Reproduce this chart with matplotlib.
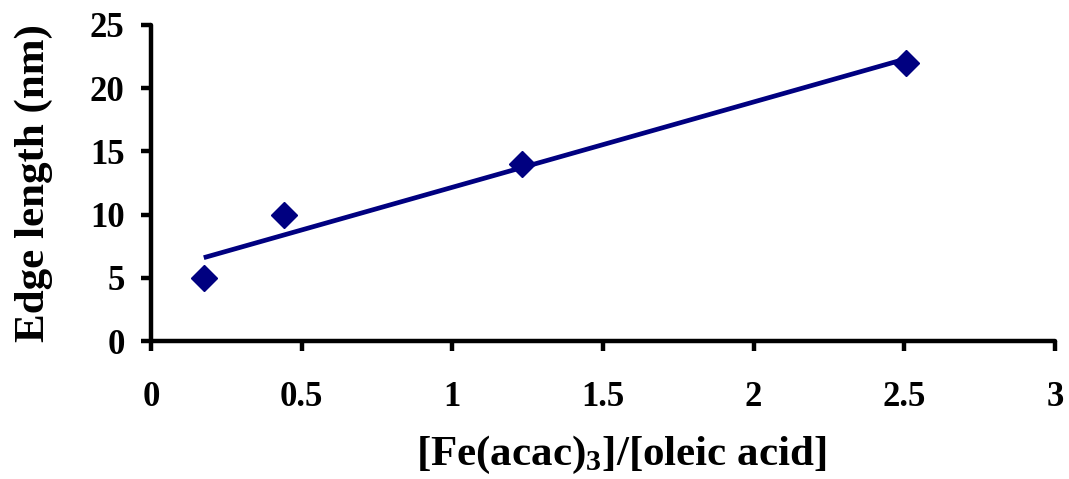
import numpy as np
import matplotlib
matplotlib.use("Agg")
import matplotlib.pyplot as plt

plt.rcParams['font.family'] = ['Liberation Serif', 'DejaVu Serif']
plt.rcParams['font.weight'] = 'bold'
plt.rcParams['mathtext.fontset'] = 'custom'
plt.rcParams['mathtext.rm'] = 'Liberation Serif:bold'
plt.rcParams['mathtext.bf'] = 'Liberation Serif:bold'
plt.rcParams['mathtext.default'] = 'bf'

# ratio [Fe(acac)3]/[oleic acid] and cube edge length
ratio = [0.175, 0.44, 1.23, 2.505]
edge = [5, 10, 14, 22]

xticks = [0, 0.5, 1, 1.5, 2, 2.5, 3]
yticks = [0, 5, 10, 15, 20, 25]

navy = '#000080'

fig = plt.figure(figsize=(10.69, 4.79), dpi=100)
ax = fig.add_axes([0.1413, 0.288, 0.8456, 0.66])

# linear trend line (least squares, as in the spreadsheet chart)
k, b = np.polyfit(ratio, edge, 1)
xs = np.array([min(ratio), max(ratio)])
ax.plot(ratio, edge, 'D', color=navy, markersize=13, linestyle='none')
ax.plot(xs, k * xs + b, color=navy, lw=3.4, solid_capstyle='butt')

ax.set_xlim(0, 3)
ax.set_ylim(0, 25)
ax.set_xticks(xticks)
ax.set_xticklabels([f'{t:g}' for t in xticks])
ax.set_yticks(yticks)

for s in ['top', 'right']:
    ax.spines[s].set_visible(False)
for s in ['left', 'bottom']:
    ax.spines[s].set_linewidth(3.2)
    ax.spines[s].set_capstyle('round')

ax.tick_params(axis='both', direction='out', length=7, width=3.2,
               labelsize=25)
ax.tick_params(axis='x', pad=22)
ax.tick_params(axis='y', pad=12)

ax.set_xlabel('[Fe(acac)$_3$]/[oleic acid]', fontsize=31, fontweight='bold')
ax.set_ylabel('Edge length (nm)', fontsize=31, fontweight='bold')
ax.xaxis.set_label_coords(0.52, -0.295)
ax.yaxis.set_label_coords(-0.108, 0.5)

fig.savefig('out.png', dpi=100)
